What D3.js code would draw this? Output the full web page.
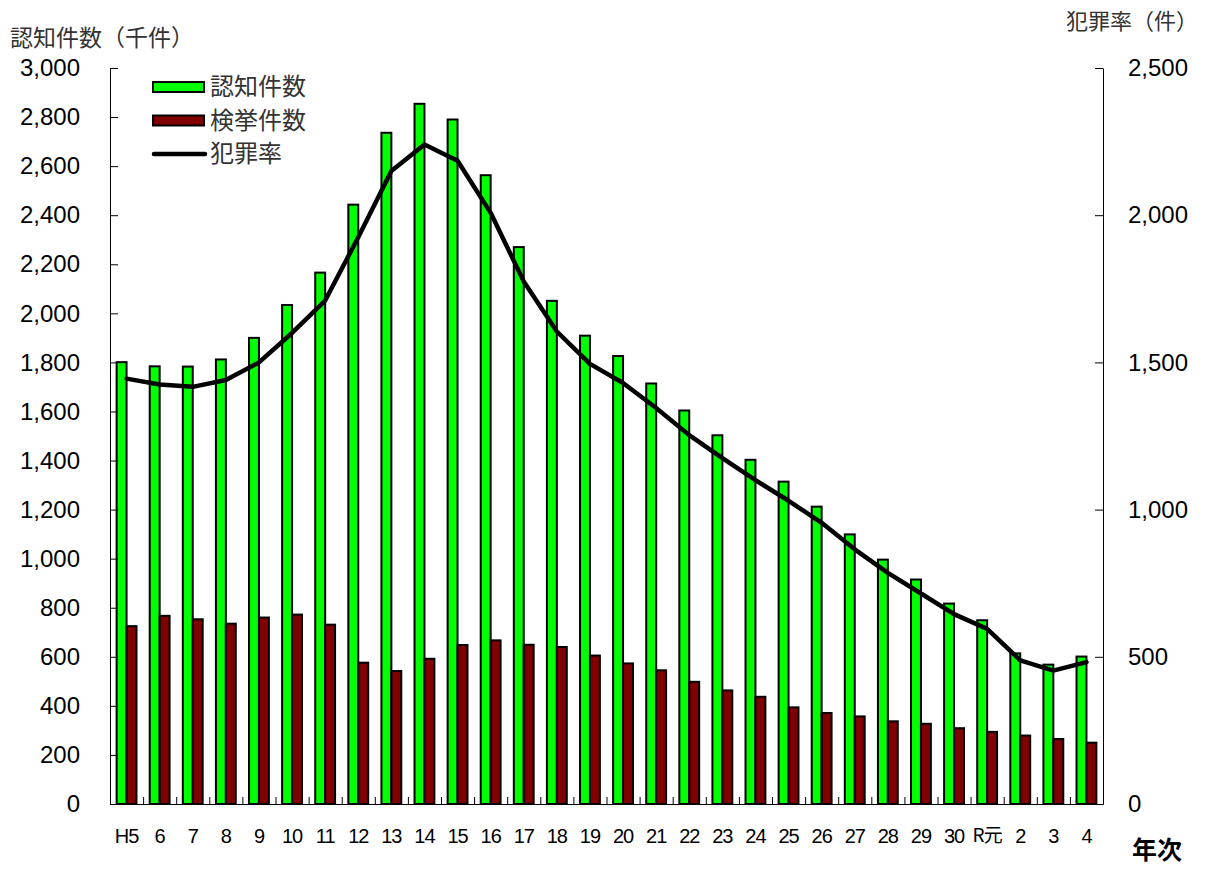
<!DOCTYPE html>
<html>
<head>
<meta charset="utf-8">
<script src="https://cdn.jsdelivr.net/npm/d3@7"></script>
<style>
  body { margin: 0; background: #fff; }
  svg { font-family: Lato, "Noto Sans CJK JP", sans-serif; }
  .jp { font-family: "Noto Sans CJK JP", sans-serif; }
</style>
</head>
<body>
<div id="chart"></div>
<script>
const years = ["H5", "6", "7", "8", "9", "10", "11", "12", "13", "14", "15", "16", "17", "18", "19",
  "20", "21", "22", "23", "24", "25", "26", "27", "28", "29", "30", "R元", "2", "3", "4"];

// 認知件数 (千件)
const ninchi = [1801, 1784, 1783, 1812, 1900, 2034, 2166, 2443, 2736, 2854, 2790, 2563, 2270, 2051, 1909,
  1826, 1714, 1604, 1503, 1403, 1314, 1212, 1099, 996, 915, 817, 749, 614, 568, 601];

// 検挙件数 (千件)
const kenkyo = [725, 767, 753, 735, 760, 772, 731, 576, 542, 592, 648, 667, 649, 640, 605,
  573, 545, 498, 463, 437, 394, 371, 357, 337, 327, 309, 294, 279, 265, 250];

// 犯罪率 (件)
const hanzai = [1445, 1425, 1417, 1440, 1500, 1600, 1710, 1925, 2150, 2240, 2185, 2008, 1775, 1605, 1495,
  1430, 1345, 1253, 1175, 1100, 1030, 955, 865, 785, 715, 645, 595, 488, 453, 482];

const leftTicks = d3.range(0, 3001, 200);
const rightTicks = d3.range(0, 2501, 500);

const W = 1209, H = 869;
const margin = { top: 68, right: 106, bottom: 65, left: 110 };
const fmt = d3.format(",");

const svg = d3.select("#chart").append("svg")
  .attr("width", W)
  .attr("height", H);

const x = d3.scaleBand()
  .domain(years)
  .range([margin.left, W - margin.right]);

const y = d3.scaleLinear()
  .domain([0, 3000])
  .range([H - margin.bottom, margin.top]);

const y2 = d3.scaleLinear()
  .domain([0, 2500])
  .range([H - margin.bottom, margin.top]);

const bw = x.bandwidth() * 0.3;
const cx = d => x(d) + x.bandwidth() / 2;

// bars
svg.append("g").selectAll("rect")
  .data(years)
  .join("rect")
  .attr("x", d => cx(d) - bw)
  .attr("y", (d, i) => y(ninchi[i]))
  .attr("width", bw)
  .attr("height", (d, i) => y(0) - y(ninchi[i]))
  .attr("fill", "#00ff00")
  .attr("stroke", "#000")
  .attr("stroke-width", 2);

svg.append("g").selectAll("rect")
  .data(years)
  .join("rect")
  .attr("x", d => cx(d))
  .attr("y", (d, i) => y(kenkyo[i]))
  .attr("width", bw)
  .attr("height", (d, i) => y(0) - y(kenkyo[i]))
  .attr("fill", "#800000")
  .attr("stroke", "#000")
  .attr("stroke-width", 2);

// crime rate line
const line = d3.line()
  .x((d, i) => cx(years[i]))
  .y(d => y2(d));

svg.append("path")
  .datum(hanzai)
  .attr("fill", "none")
  .attr("stroke", "#000")
  .attr("stroke-width", 4.5)
  .attr("stroke-linejoin", "round")
  .attr("stroke-linecap", "round")
  .attr("d", line);

// left axis
const gl = svg.append("g")
  .attr("transform", `translate(${margin.left},0)`)
  .call(d3.axisLeft(y).tickValues(leftTicks).tickFormat(fmt).tickSizeInner(-8).tickSizeOuter(0).tickPadding(30));

// right axis
const gr = svg.append("g")
  .attr("transform", `translate(${W - margin.right},0)`)
  .call(d3.axisRight(y2).tickValues(rightTicks).tickFormat(fmt).tickSizeInner(-8).tickSizeOuter(0).tickPadding(25));

[gl, gr].forEach(g => {
  g.selectAll("text").attr("font-size", 24).attr("fill", "#000");
  g.selectAll("line, path").attr("stroke", "#000");
});

// bottom axis: separators between categories
const xi = d3.scaleLinear().domain([0, years.length]).range(x.range());
svg.append("g")
  .attr("transform", `translate(0,${H - margin.bottom})`)
  .call(d3.axisBottom(xi).tickValues(d3.range(0, years.length + 1)).tickFormat("").tickSizeInner(-7).tickSizeOuter(0))
  .call(g => g.selectAll("line, path").attr("stroke", "#000"));

// bottom axis labels
svg.append("g")
  .attr("transform", `translate(0,${H - margin.bottom})`)
  .call(d3.axisBottom(x).tickSize(0).tickPadding(25))
  .call(g => g.select(".domain").remove())
  .call(g => g.selectAll("text")
    .attr("letter-spacing", -1)
    .attr("fill", "#000")
    .attr("class", d => d === "R元" ? "jp" : null)
    .attr("font-size", d => d === "R元" ? 19 : 20));

// axis titles
svg.append("text")
  .attr("class", "jp")
  .attr("x", 10)
  .attr("y", 46)
  .attr("font-size", 23)
  .attr("fill", "#333")
  .text("認知件数（千件）");

svg.append("text")
  .attr("class", "jp")
  .attr("x", 1198)
  .attr("y", 29)
  .attr("text-anchor", "end")
  .attr("font-size", 22)
  .attr("fill", "#333")
  .text("犯罪率（件）");

svg.append("text")
  .attr("class", "jp")
  .attr("x", 1132)
  .attr("y", 859)
  .attr("font-size", 25)
  .attr("font-weight", "bold")
  .attr("fill", "#000")
  .text("年次");

// legend
const legend = svg.append("g")
  .attr("transform", "translate(153,87)");

const legendItems = [
  { label: "認知件数", type: "bar", color: "#00ff00" },
  { label: "検挙件数", type: "bar", color: "#800000" },
  { label: "犯罪率", type: "line", color: "#000" }
];

legend.selectAll("g")
  .data(legendItems)
  .join("g")
  .attr("transform", (d, i) => `translate(0,${i * 33.5})`)
  .each(function (d) {
    const gi = d3.select(this);
    if (d.type === "bar") {
      gi.append("rect")
        .attr("x", 0).attr("y", -5)
        .attr("width", 51).attr("height", 10)
        .attr("fill", d.color)
        .attr("stroke", "#000")
        .attr("stroke-width", 2);
    } else {
      gi.append("line")
        .attr("x1", 1).attr("x2", 52)
        .attr("y1", 0).attr("y2", 0)
        .attr("stroke", "#000")
        .attr("stroke-width", 4.5)
        .attr("stroke-linecap", "round");
    }
    gi.append("text")
      .attr("class", "jp")
      .attr("x", 57)
      .attr("y", 8)
      .attr("font-size", 24)
      .attr("fill", "#333")
      .text(d.label);
  });
</script>
</body>
</html>
